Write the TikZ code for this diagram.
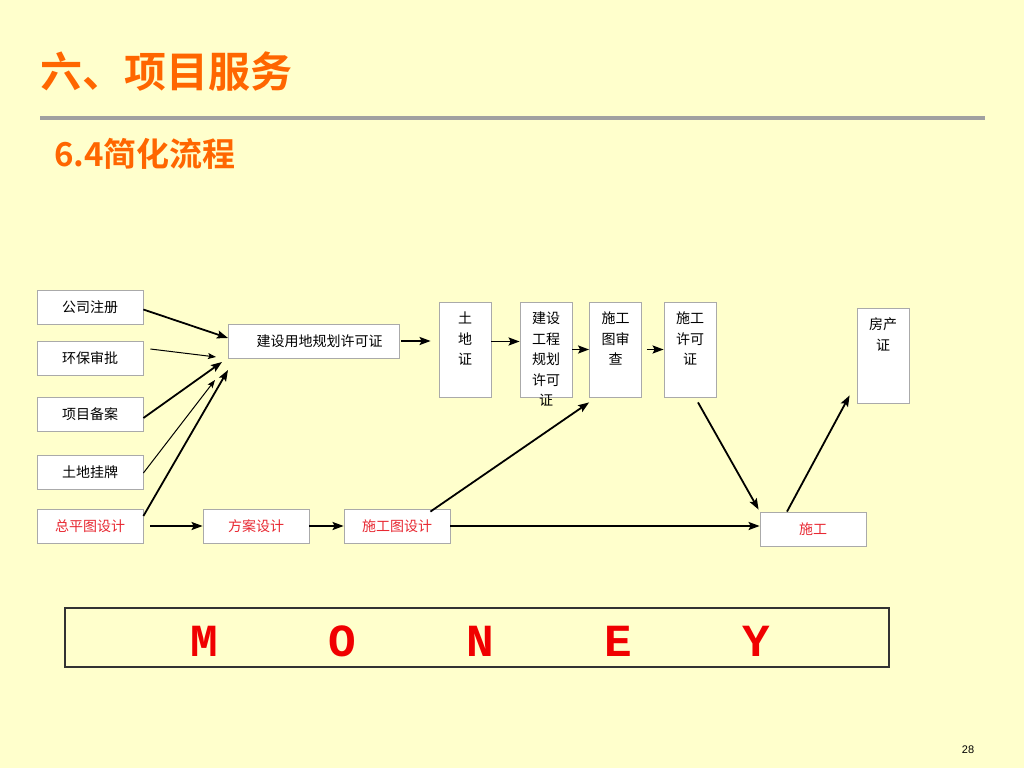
\documentclass[tikz,border=0pt]{standalone}
\usepackage{fontspec}
\setmainfont{Liberation Serif}
\newfontfamily\cjk{Noto Sans CJK SC}
\newfontfamily\cjkb{Noto Sans CJK SC Bold}
\newfontfamily\monob{Liberation Mono}[BoldFont={* Bold}]
\newfontfamily\sfnum{Liberation Sans}
\usetikzlibrary{arrows.meta}
\definecolor{bgyellow}{RGB}{255,255,204}
\definecolor{titleorange}{RGB}{255,102,0}
\definecolor{boxgray}{RGB}{170,170,170}
\definecolor{rulegray}{RGB}{160,160,160}
\definecolor{lblred}{RGB}{232,40,50}
\definecolor{moneyred}{RGB}{240,0,0}
\begin{document}
\begin{tikzpicture}[x=1pt,y=-1pt,
  box/.style={draw=boxgray,line width=0.8pt,fill=white,inner sep=0pt,
    font=\cjk\fontsize{14}{18}\selectfont},
  hbox/.style={box,minimum width=106pt,minimum height=34pt},
  vbox/.style={box,minimum width=52pt,minimum height=95pt},
  vtext/.style={anchor=north,align=center,inner sep=0pt,
    font=\cjk\fontsize{14}{20.5}\selectfont},
  arr/.style={-{Stealth[length=11pt,width=8pt,inset=2pt]},line width=1.8pt},
  tarr/.style={-{Stealth[length=8pt,width=6pt,inset=1.5pt]},line width=1pt},
  redtxt/.style={text=lblred}]
\useasboundingbox (0,0) rectangle (1024,768);
\fill[bgyellow] (0,0) rectangle (1024,768);
% titles
\node[anchor=west,inner sep=0pt,text=titleorange,font=\cjkb\fontsize{42}{44}\selectfont] (title) at (40,72) {六、项目服务};
\draw[rulegray,line width=4pt] (40,117.5) -- (985,117.5);
\node[anchor=west,inner sep=0pt,text=titleorange,font=\cjkb\fontsize{33}{35}\selectfont] (sub) at (54,154) {6.4简化流程};
% left column
\node[hbox] (a1) at (90,307.5) {公司注册};
\node[hbox] (a2) at (90,358) {环保审批};
\node[hbox] (a3) at (90,414) {项目备案};
\node[hbox] (a4) at (90,472) {土地挂牌};
\node[hbox,redtxt] (a5) at (90,526) {总平图设计};
% bottom row
\node[hbox,redtxt] (b1) at (256,526) {方案设计};
\node[hbox,redtxt] (b2) at (397,526) {施工图设计};
\node[hbox,redtxt] (sg) at (813,529) {施工};
% middle
\node[box,minimum width=171pt,minimum height=34pt] (jy) at (313.5,341) {\hspace*{12pt}建设用地规划许可证};
% vertical boxes
\node[vbox] (v1) at (465,349.5) {};
\node[vbox] (v2) at (546,349.5) {};
\node[vbox] (v3) at (615.5,349.5) {};
\node[vbox] (v4) at (690,349.5) {};
\node[vbox] (v5) at (883,355.5) {};
\node[vtext] (t1) at (465,312) {土\\地\\证};
\node[vtext] (t2) at (546,312) {建设\\工程\\规划\\许可\\证};
\node[vtext] (t3) at (615.5,312) {施工\\图审\\查};
\node[vtext] (t4) at (690,312) {施工\\许可\\证};
\node[vtext] (t5) at (883,318) {房产\\证};
% money
\node[draw=black!80,line width=1.5pt,minimum width=824pt,minimum height=59pt,inner sep=0pt] (money) at (477,637.5) {};
\node[inner sep=0pt,text=moneyred,font=\monob\bfseries\fontsize{46}{50}\selectfont] (mtxt) at (480,641)
  {\makebox[138pt]{M}\makebox[138pt]{O}\makebox[138pt]{N}\makebox[138pt]{E}\makebox[138pt]{Y}};
\node[font=\sfnum\fontsize{11}{12}\selectfont,inner sep=0pt] (pg) at (968,750) {28};
% coordinates for arrow ends
\coordinate (e1) at (228,338);
\coordinate (e2) at (216,357);
\coordinate (e3) at (222,362);
\coordinate (e4) at (215,380);
\coordinate (e5) at (228,370);
% arrows
\draw[arr] (a1.east) ++(0,2) -- (e1);
\draw[tarr] ([xshift=7pt,yshift=9pt]a2.east) -- (e2);
\draw[arr] ([yshift=-4pt]a3.east) -- (e3);
\draw[tarr] ([yshift=-1pt]a4.east) -- (e4);
\draw[arr] ([yshift=10pt]a5.east) -- (e5);
\draw[arr] ([xshift=2pt]jy.east) -- ([xshift=-8pt]v1.west |- jy.east);
\draw[arr] ([yshift=8pt]v1.east) -- ([yshift=8pt]v2.west);
\draw[arr] (v2.east) -- (v3.west);
\draw[arr] ([xshift=5pt]v3.east) -- (v4.west);
\draw[arr] ([xshift=8pt,yshift=-5pt]v4.south) -- ([xshift=-1pt,yshift=2pt]sg.north west);
\draw[arr] ([xshift=-26pt]sg.north) -- ([xshift=-7pt,yshift=8pt]v5.south west);
\draw[arr] ([xshift=7pt]a5.east) -- (b1.west);
\draw[arr] (b1.east) -- (b2.west);
\draw[arr] (b2.east) -- (b2.east -| sg.west);
\draw[arr] ([xshift=-20pt,yshift=-3pt]b2.north east) -- ([yshift=-5pt]v3.south west);
\end{tikzpicture}
\end{document}
